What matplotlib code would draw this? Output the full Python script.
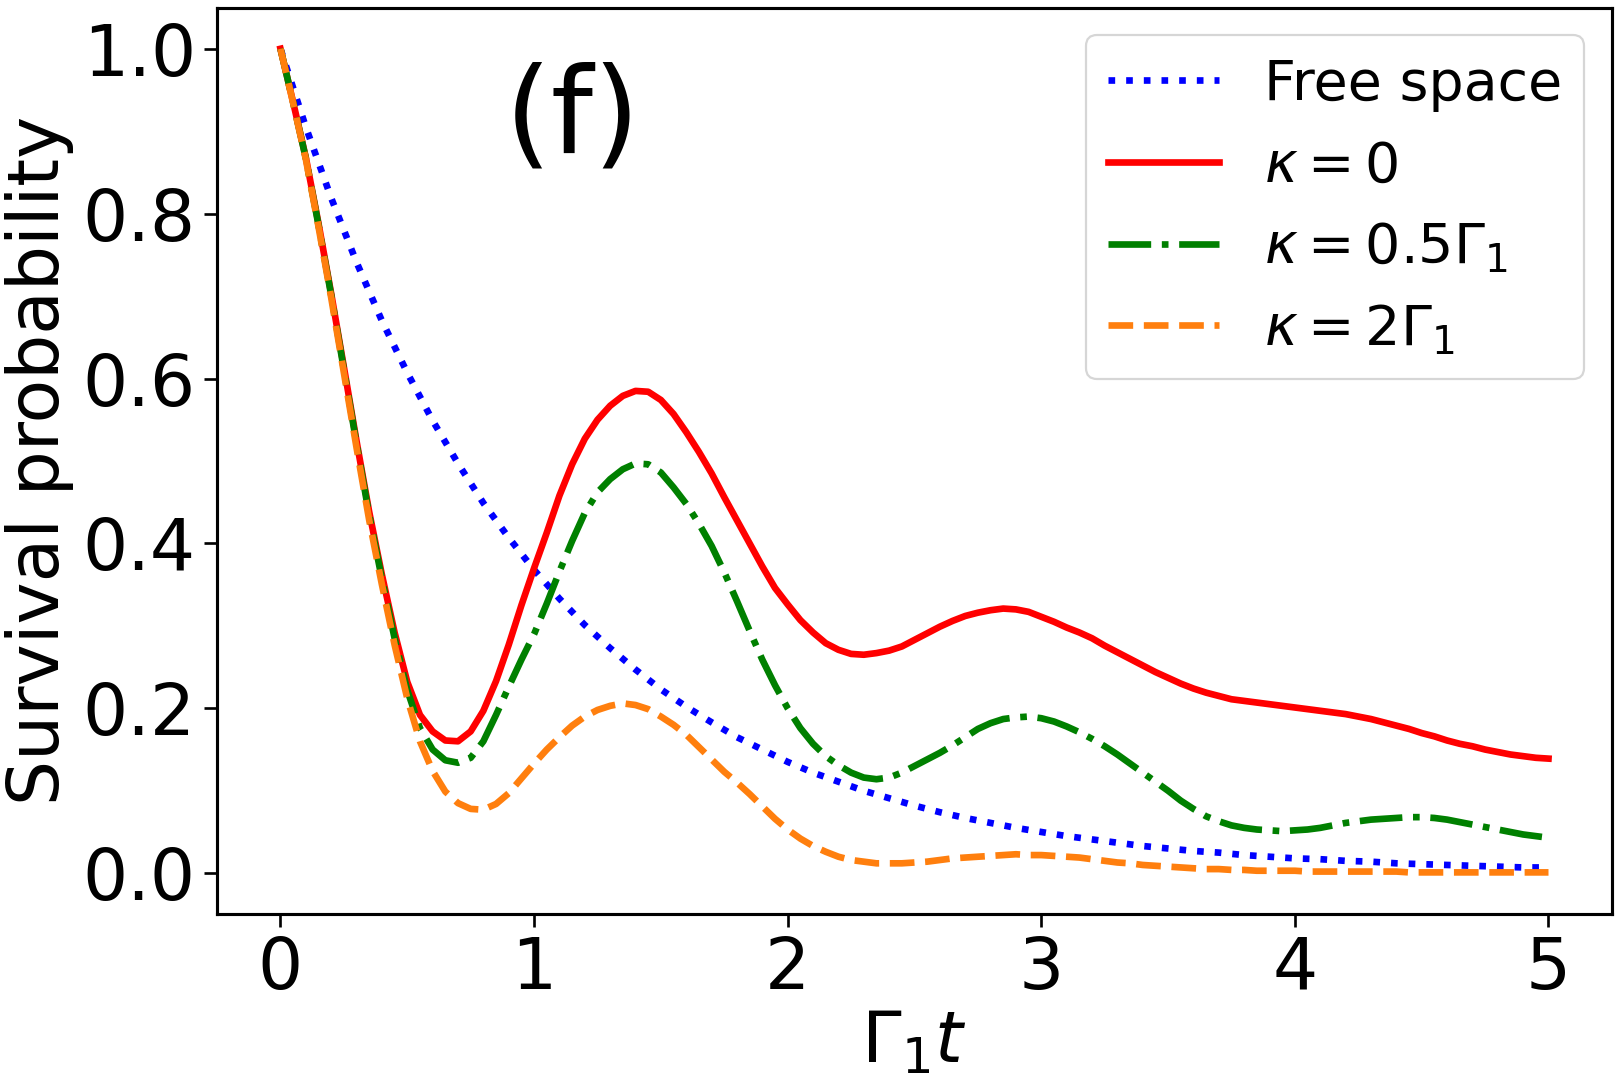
import numpy as np
import matplotlib.pyplot as plt

# time axis (Gamma_1 t)
t_free = np.round(np.arange(0, 5.01, 0.1), 2)
t = np.round(np.arange(0, 5.001, 0.05), 2)

free_space = [1.000, 0.905, 0.819, 0.741, 0.670, 0.607, 0.549, 0.497, 0.449, 0.407,
              0.368, 0.333, 0.301, 0.273, 0.247, 0.223, 0.202, 0.183, 0.165, 0.150,
              0.135, 0.122, 0.111, 0.100, 0.091, 0.082, 0.074, 0.067, 0.061, 0.055,
              0.050, 0.045, 0.041, 0.037, 0.033, 0.030, 0.027, 0.025, 0.022, 0.020,
              0.018, 0.017, 0.015, 0.014, 0.012, 0.011, 0.010, 0.009, 0.008, 0.007,
              0.007]

kappa_0 = [1.000, 0.935, 0.868, 0.788, 0.703, 0.614, 0.524, 0.438, 0.362, 0.292,
           0.232, 0.192, 0.172, 0.161, 0.160, 0.172, 0.197, 0.233, 0.277, 0.325,
           0.370, 0.413, 0.458, 0.496, 0.527, 0.550, 0.567, 0.579, 0.585, 0.584,
           0.574, 0.557, 0.535, 0.511, 0.485, 0.456, 0.428, 0.400, 0.372, 0.346,
           0.326, 0.307, 0.292, 0.279, 0.271, 0.266, 0.265, 0.267, 0.270, 0.275,
           0.283, 0.291, 0.299, 0.306, 0.312, 0.316, 0.319, 0.321, 0.320, 0.317,
           0.311, 0.305, 0.298, 0.292, 0.285, 0.276, 0.268, 0.260, 0.252, 0.244,
           0.237, 0.230, 0.224, 0.219, 0.215, 0.211, 0.209, 0.207, 0.205, 0.203,
           0.201, 0.199, 0.197, 0.195, 0.193, 0.190, 0.187, 0.183, 0.179, 0.175,
           0.170, 0.166, 0.161, 0.157, 0.154, 0.150, 0.147, 0.144, 0.142, 0.140,
           0.139]

kappa_05 = [1.000, 0.935, 0.867, 0.786, 0.701, 0.611, 0.521, 0.434, 0.357, 0.285,
            0.222, 0.176, 0.150, 0.137, 0.134, 0.140, 0.160, 0.192, 0.226, 0.259,
            0.290, 0.327, 0.366, 0.403, 0.437, 0.462, 0.478, 0.490, 0.497, 0.496,
            0.486, 0.468, 0.448, 0.424, 0.397, 0.365, 0.330, 0.294, 0.259, 0.228,
            0.200, 0.176, 0.157, 0.142, 0.131, 0.122, 0.116, 0.114, 0.116, 0.122,
            0.130, 0.138, 0.146, 0.155, 0.165, 0.175, 0.182, 0.187, 0.189, 0.190,
            0.188, 0.184, 0.178, 0.171, 0.163, 0.154, 0.144, 0.133, 0.122, 0.111,
            0.100, 0.088, 0.078, 0.069, 0.063, 0.058, 0.055, 0.053, 0.052, 0.051,
            0.052, 0.053, 0.055, 0.058, 0.061, 0.063, 0.065, 0.066, 0.067, 0.068,
            0.068, 0.067, 0.065, 0.062, 0.059, 0.056, 0.053, 0.050, 0.047, 0.045,
            0.043]

kappa_2 = [1.000, 0.934, 0.866, 0.784, 0.698, 0.607, 0.516, 0.428, 0.350, 0.277,
           0.212, 0.160, 0.124, 0.099, 0.085, 0.078, 0.077, 0.084, 0.097, 0.115,
           0.133, 0.150, 0.165, 0.179, 0.190, 0.198, 0.203, 0.206, 0.204, 0.199,
           0.190, 0.180, 0.168, 0.153, 0.138, 0.123, 0.110, 0.096, 0.081, 0.066,
           0.053, 0.042, 0.033, 0.026, 0.020, 0.016, 0.014, 0.012, 0.012, 0.012,
           0.013, 0.014, 0.016, 0.018, 0.019, 0.020, 0.021, 0.022, 0.023, 0.022,
           0.022, 0.021, 0.020, 0.019, 0.017, 0.015, 0.013, 0.012, 0.010, 0.009,
           0.008, 0.007, 0.006, 0.005, 0.005, 0.004, 0.004, 0.003, 0.003, 0.003,
           0.003, 0.002, 0.002, 0.002, 0.002, 0.002, 0.002, 0.002, 0.002, 0.001,
           0.001, 0.001, 0.001, 0.001, 0.001, 0.001, 0.001, 0.001, 0.001, 0.001,
           0.001]

labels = ['Free space', r'$\kappa=0$', r'$\kappa=0.5\Gamma_1$', r'$\kappa=2\Gamma_1$']

fig = plt.figure(figsize=(10.125, 6.78125), dpi=160)
ax = fig.add_axes([0.134, 0.158, 0.861, 0.835])

ax.plot(t_free, free_space, ':', color='b', lw=3, label=labels[0])
ax.plot(t, kappa_0, '-', color='r', lw=3, label=labels[1])
ax.plot(t, kappa_05, '-.', color='g', lw=3, label=labels[2])
ax.plot(t, kappa_2, '--', color='C1', lw=3, label=labels[3])

ax.set_xlabel(r'$\Gamma_1 t$', fontsize=32, labelpad=2)
ax.set_ylabel('Survival probability', fontsize=32)
ax.tick_params(labelsize=32, length=6, width=1.2)
ax.set_yticks([0.0, 0.2, 0.4, 0.6, 0.8, 1.0])
for s in ax.spines.values():
    s.set_linewidth(1.4)

ax.text(0.255, 0.876, '(f)', transform=ax.transAxes, fontsize=54,
        ha='center', va='center')
ax.legend(fontsize=25, loc='upper right')

fig.savefig('out.png', dpi=160)
